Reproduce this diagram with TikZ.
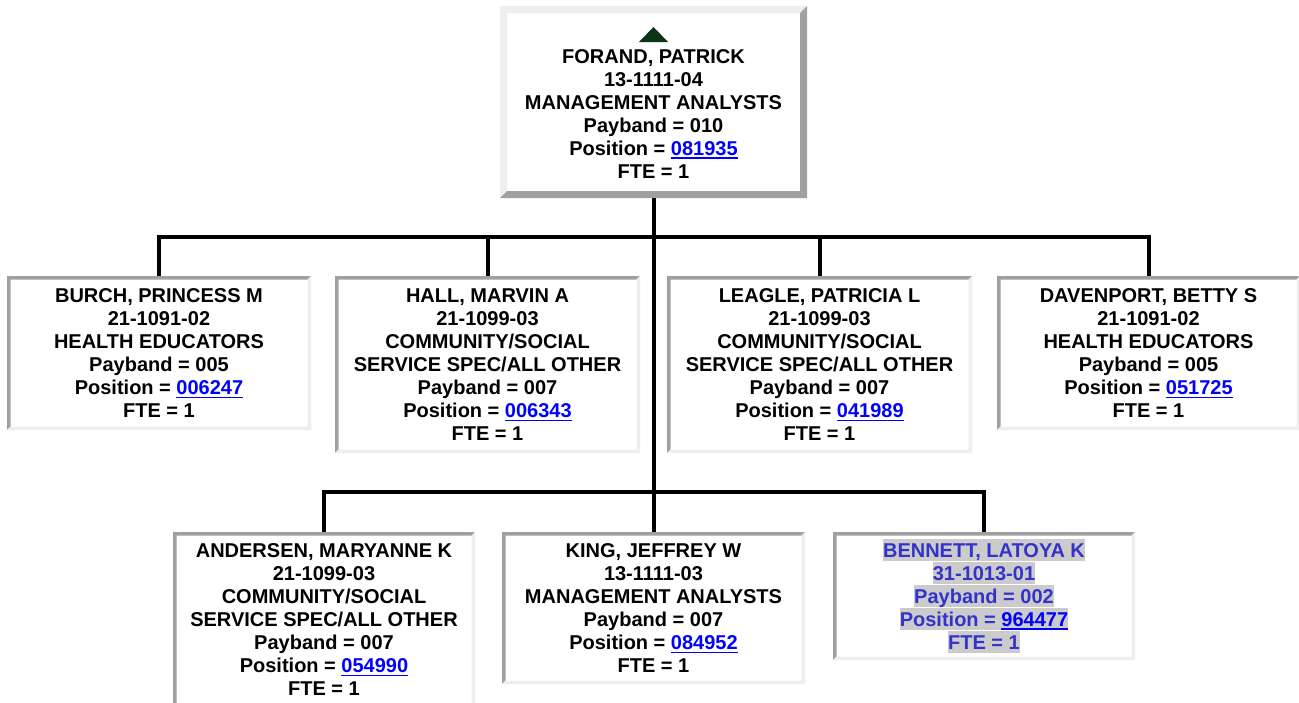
\documentclass[tikz,border=0pt]{standalone}
\usepackage{fontspec}
\setmainfont{Liberation Sans}
\definecolor{dk}{HTML}{A0A0A0}
\definecolor{lt}{HTML}{EEEEEE}
\definecolor{lblue}{HTML}{0000FF}
\definecolor{bcol}{HTML}{3333CC}
\definecolor{hlgray}{HTML}{CBCBCB}
\definecolor{tri}{HTML}{0B3315}
\newsavebox\lnkbox
\newcommand\lnk[1]{{\color{lblue}\sbox\lnkbox{#1}\usebox\lnkbox\llap{\rule[-3.8pt]{\wd\lnkbox}{1.8pt}}}}
\newcommand\hlline[1]{{\setlength{\fboxsep}{0pt}\colorbox{hlgray}{\rule[-4.2pt]{0pt}{22.3pt}#1}}}
\newcommand\boxbevel[4]{%
  \fill[#3] (#1.north west) -- (#1.north east) -- ([xshift=-#2pt,yshift=-#2pt]#1.north east) -- ([xshift=#2pt,yshift=-#2pt]#1.north west) -- ([xshift=#2pt,yshift=#2pt]#1.south west) -- (#1.south west) -- cycle;
  \fill[#4] (#1.south east) -- (#1.south west) -- ([xshift=#2pt,yshift=#2pt]#1.south west) -- ([xshift=-#2pt,yshift=#2pt]#1.south east) -- ([xshift=-#2pt,yshift=-#2pt]#1.north east) -- (#1.north east) -- cycle;
}
\begin{document}
\begin{tikzpicture}[x=1pt,y=-1pt,
  orgbox/.style={rectangle, fill=white, inner sep=0pt, outer sep=0pt},
  txt/.style={inner sep=0pt, outer sep=0pt, align=center, anchor=north, font=\fontsize{20}{23}\selectfont\bfseries},
  conn/.style={line width=4pt, black}]
\useasboundingbox (0,0) rectangle (1299,702);
\clip (0,0) rectangle (1299,702);
\fill[white] (0,0) rectangle (1299,702);

% boxes
\node[orgbox, minimum width=307pt, minimum height=192pt] (top) at (653.5,102) {};
\node[orgbox, minimum width=304pt, minimum height=154pt] (burch) at (159,353) {};
\node[orgbox, minimum width=305pt, minimum height=177pt] (hall) at (487.5,364.5) {};
\node[orgbox, minimum width=305pt, minimum height=177pt] (leagle) at (819.5,364.5) {};
\node[orgbox, minimum width=303pt, minimum height=154pt] (dav) at (1148.5,353) {};
\node[orgbox, minimum width=302pt, minimum height=177pt] (andersen) at (324,620.5) {};
\node[orgbox, minimum width=303pt, minimum height=152pt] (king) at (653.5,608) {};
\node[orgbox, minimum width=302pt, minimum height=128pt] (bennett) at (984,596) {};

\boxbevel{top}{7}{lt}{dk}
\boxbevel{burch}{3.5}{dk}{lt}
\boxbevel{hall}{3.5}{dk}{lt}
\boxbevel{leagle}{3.5}{dk}{lt}
\boxbevel{dav}{3.5}{dk}{lt}
\boxbevel{andersen}{3.5}{dk}{lt}
\boxbevel{king}{3.5}{dk}{lt}
\boxbevel{bennett}{3.5}{dk}{lt}

% connectors
\coordinate (bus1) at (653.5,237);
\coordinate (bus2) at (653.5,492);
\draw[conn] (top.south) -- (king.north);
\draw[conn] (burch.north) |- (bus1) -| (dav.north);
\draw[conn] (hall.north) -- (hall.north |- bus1);
\draw[conn] (leagle.north) -- (leagle.north |- bus1);
\draw[conn] (andersen.north) |- (bus2) -| (bennett.north);

% triangle
\fill[tri] (639,42) -- (668,42) -- (653.5,27) -- cycle;

% texts
\node[txt] (top-t) at (653.5,46.9) {\strut FORAND, PATRICK\\13-1111-04\\MANAGEMENT ANALYSTS\\Payband = 010\\Position = \lnk{081935}\\FTE = 1\strut};
\node[txt] (burch-t) at (159,286.4) {\strut BURCH, PRINCESS M\\21-1091-02\\HEALTH EDUCATORS\\Payband = 005\\Position = \lnk{006247}\\FTE = 1\strut};
\node[txt] (hall-t) at (487.5,286.4) {\strut HALL, MARVIN A\\21-1099-03\\COMMUNITY/SOCIAL\\SERVICE SPEC/ALL OTHER\\Payband = 007\\Position = \lnk{006343}\\FTE = 1\strut};
\node[txt] (leagle-t) at (819.5,286.4) {\strut LEAGLE, PATRICIA L\\21-1099-03\\COMMUNITY/SOCIAL\\SERVICE SPEC/ALL OTHER\\Payband = 007\\Position = \lnk{041989}\\FTE = 1\strut};
\node[txt] (dav-t) at (1148.5,286.4) {\strut DAVENPORT, BETTY S\\21-1091-02\\HEALTH EDUCATORS\\Payband = 005\\Position = \lnk{051725}\\FTE = 1\strut};
\node[txt] (andersen-t) at (324,541.4) {\strut ANDERSEN, MARYANNE K\\21-1099-03\\COMMUNITY/SOCIAL\\SERVICE SPEC/ALL OTHER\\Payband = 007\\Position = \lnk{054990}\\FTE = 1\strut};
\node[txt] (king-t) at (653.5,541.4) {\strut KING, JEFFREY W\\13-1111-03\\MANAGEMENT ANALYSTS\\Payband = 007\\Position = \lnk{084952}\\FTE = 1\strut};
\node[txt, text=bcol] (bennett-t) at (984,539) {\hlline{BENNETT, LATOYA K}\\\hlline{31-1013-01}\\\hlline{Payband = 002}\\\hlline{Position = \lnk{964477}}\\\hlline{FTE = 1}};
\end{tikzpicture}
\end{document}
